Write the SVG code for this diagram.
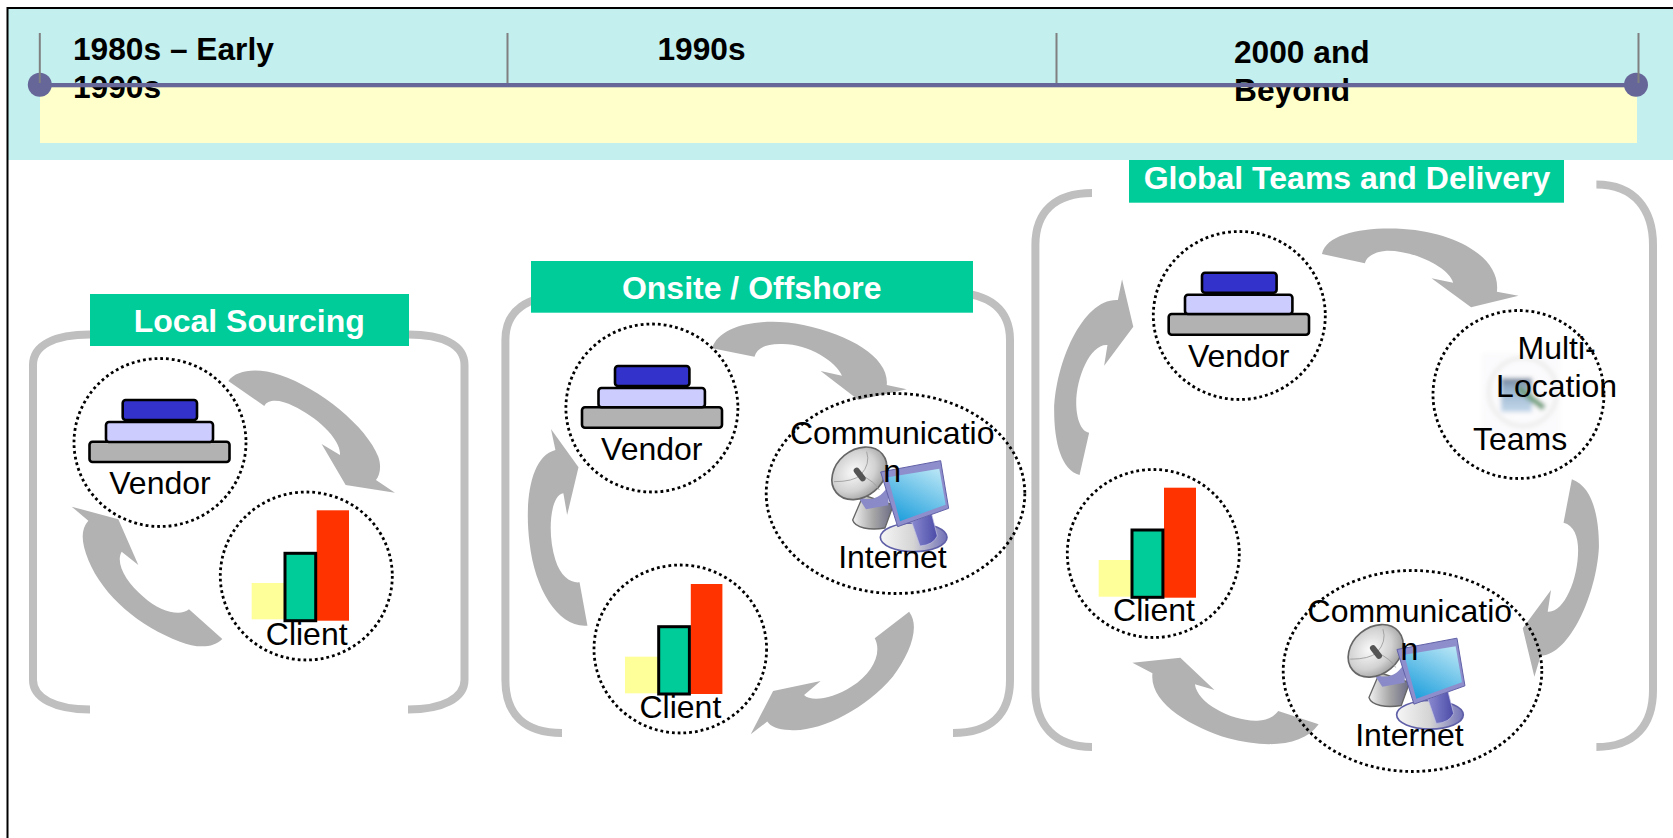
<svg xmlns="http://www.w3.org/2000/svg" width="1673" height="838" viewBox="0 0 1673 838">
<style>
text{font-family:"Liberation Sans",Arial,sans-serif;fill:#000}
.lab{font-size:32px;text-anchor:middle}
.era{font-size:31.7px;font-weight:bold}
.ttl{font-size:32px;font-weight:bold;fill:#fff;text-anchor:middle}
.head{fill:#00CC99}
.brk{fill:none;stroke:#BFBFBF;stroke-width:8}
.dot{fill:none;stroke:#000;stroke-width:2.8;stroke-dasharray:2.8 3}
.arr{fill:#B2B2B2}
.b1{fill:#3333CC;stroke:#000;stroke-width:2.6}
.b2{fill:#CCCCFF;stroke:#000;stroke-width:2.6}
.b3{fill:#B2B2B2;stroke:#000;stroke-width:2.6}
.by{fill:#FFFF99}
.bg{fill:#00CC99;stroke:#000;stroke-width:3}
.br{fill:#FF3300}
.tick{stroke:#808080;stroke-width:2}
</style>
<defs>
<radialGradient id="dishG" cx="0.45" cy="0.4" r="0.7"><stop offset="0" stop-color="#fafafa"/><stop offset="0.55" stop-color="#d2d2d2"/><stop offset="1" stop-color="#8c8c8c"/></radialGradient>
<linearGradient id="coneG" x1="0" x2="1"><stop offset="0" stop-color="#f2f2f2"/><stop offset="0.5" stop-color="#a8a8a8"/><stop offset="1" stop-color="#6a6a84"/></linearGradient>
<linearGradient id="scrG" x1="0.8" y1="0" x2="0.2" y2="1"><stop offset="0" stop-color="#b5e4f5"/><stop offset="1" stop-color="#1f9fdc"/></linearGradient>
<linearGradient id="baseG" x1="0" x2="1"><stop offset="0" stop-color="#f6f6f6"/><stop offset="0.5" stop-color="#d4d4d4"/><stop offset="1" stop-color="#7070b8"/></linearGradient>
<linearGradient id="neckG" x1="0" x2="1"><stop offset="0" stop-color="#8a8ad0"/><stop offset="1" stop-color="#4b4ba8"/></linearGradient>
<linearGradient id="photoG" x1="0" y1="0" x2="0" y2="1"><stop offset="0" stop-color="#76869c"/><stop offset="0.35" stop-color="#9ab5cf"/><stop offset="1" stop-color="#c4d8ea"/></linearGradient>
<filter id="soft" x="-20%" y="-20%" width="140%" height="140%"><feGaussianBlur stdDeviation="2.2"/></filter>
<g id="net" transform="translate(820,440) scale(.3333)">
<path d="M130 165 L98 240 C105 264 150 272 195 264 L220 195 Z" fill="url(#coneG)" stroke="#666" stroke-width="4"/>
<path d="M112 168 C150 190 190 172 208 128 L205 196 L138 208 Z" fill="#8a8ac8"/>
<ellipse cx="118" cy="100" rx="90" ry="70" transform="rotate(-40 118 100)" fill="url(#dishG)" stroke="#666" stroke-width="5"/>
<path d="M42 125 Q100 125 122 105 M122 105 Q152 72 140 35 M122 105 Q165 125 178 150" fill="none" stroke="#999" stroke-width="2.5"/>
<path d="M110 92 L128 115" stroke="#555" stroke-width="18" stroke-linecap="round"/>
<ellipse cx="281" cy="292" rx="100" ry="43" fill="url(#baseG)" stroke="#5f5fa8" stroke-width="5"/>
<path d="M275 245 L335 222 L352 288 Q340 315 300 318 Z" fill="url(#neckG)" stroke="#c5c5e5" stroke-width="2"/>
<path d="M182 96 L362 62 L386 205 L233 260 Z" fill="#8e8ecc" stroke="#6060a8" stroke-width="3"/>
<path d="M204 112 L358 86 L377 194 L240 244 Z" fill="url(#scrG)"/>
</g>
</defs>

<rect x="8" y="8" width="1665" height="152" fill="#C3EFEF"/>
<path d="M7.5 838 V8 H1673" fill="none" stroke="#000" stroke-width="2"/>
<rect x="40" y="87" width="1597" height="56" fill="#FFFFCC"/>

<g id="timeline">
<text class="era" x="73" y="60">1980s – Early</text>
<text class="era" x="73" y="98">1990s</text>
<text class="era" x="657.5" y="60">1990s</text>
<text class="era" x="1234" y="63">2000 and</text>
<text class="era" x="1234" y="101">Beyond</text>
<circle cx="39.8" cy="84.7" r="12" fill="#666699"/>
<circle cx="1636" cy="84.7" r="12" fill="#666699"/>
<path class="tick" d="M39.8 33V83M507.5 33V83M1056.5 33V83M1638.5 33V83"/>
<rect x="39.8" y="83" width="1596" height="4.3" fill="#666699"/>
</g>

<g id="panel-local">
<path class="brk" d="M90 334.5 C55 334.5 33 345 33 365 V680 C33 698 55 709.5 90 709.5"/>
<path class="brk" d="M408 334.5 C443 334.5 464.5 345 464.5 365 V680 C464.5 698 443 709.5 408 709.5"/>
<rect class="head" x="90" y="294" width="319" height="52"/>
<text class="ttl" x="249.2" y="332">Local Sourcing</text>
</g>
<g id="panel-onsite">
<path class="brk" d="M562 296 C528 296 505.4 310 505.4 340 V680 C505.4 715 525 733 562 733"/>
<path class="brk" d="M953 293 C990 293 1010 310 1010 340 V680 C1010 715 990 733 953 733"/>
<rect class="head" x="531" y="261" width="442" height="51.7"/>
<text class="ttl" x="751.7" y="299">Onsite / Offshore</text>
</g>
<g id="panel-global">
<path class="brk" d="M1092 193 C1055 193 1035.4 212 1035.4 245 V690 C1035.4 725 1055 747 1092 747"/>
<path class="brk" d="M1596.4 184.5 C1635 184.5 1653 210 1653 245 V690 C1653 725 1635 747 1596.4 747"/>
<rect class="head" x="1129" y="160" width="435" height="42.7"/>
<text class="ttl" x="1347" y="189">Global Teams and Delivery</text>
</g>

<g id="connectors" class="arr">
<g transform="translate(20,280) scale(.3333)">
<path d="M625 303 C650 270 710 262 780 285 C900 325 1040 440 1075 530 C1085 560 1080 585 1068 600 L1125 638 L977 615 L905 492 L960 525 C965 480 890 410 820 378 C785 360 745 355 733 378 Z"/>
<path d="M607 1077 C580 1105 530 1105 480 1085 C360 1040 250 950 205 840 C185 790 180 750 205 722 L155 680 L295 718 L355 855 L305 815 C285 850 320 910 370 950 C420 995 480 1010 507 988 Z"/>
</g>
<g transform="translate(490,250) scale(.3444,.3333)">
<path d="M645 295 C665 225 790 200 910 225 C1050 255 1160 325 1152 405 L1210 418 L1070 450 L960 363 L1022 377 C1005 335 925 282 850 282 C800 280 775 295 768 320 Z"/>
<path d="M283 1127 C200 1135 130 1020 115 880 C100 760 115 620 190 600 L177 537 L257 652 L224 795 L213 730 C175 735 165 850 190 930 C205 980 235 1000 260 997 Z"/>
<path d="M1217 1085 C1250 1130 1220 1210 1170 1280 C1090 1380 950 1450 870 1440 C835 1440 815 1430 805 1415 L757 1453 L822 1323 L960 1293 L912 1335 C930 1355 990 1350 1050 1310 C1110 1270 1140 1210 1117 1165 Z"/>
</g>
<g transform="translate(1020,150) scale(.4165,.3333)">
<path d="M725 312 C735 250 830 230 920 237 C1050 247 1155 325 1145 425 L1197 437 L1083 472 L988 385 L1040 398 C1030 350 940 300 880 302 C850 305 832 320 828 340 Z"/>
<path d="M143 975 C100 960 82 880 82 780 C85 640 150 445 235 450 L245 388 L272 530 L202 647 L210 585 C170 580 135 680 135 760 C135 800 145 845 166 848 Z"/>
</g>
<g transform="translate(1020,450) scale(.4165,.3333)">
<path d="M1325 88 C1375 110 1390 200 1390 290 C1385 430 1320 615 1250 617 L1235 680 L1207 535 L1275 420 L1267 485 C1305 490 1340 390 1340 300 C1340 260 1330 225 1305 218 Z"/>
<path d="M717 823 C680 890 590 895 500 865 C410 830 310 760 318 670 L270 638 L385 623 L467 720 L420 703 C425 760 510 815 570 812 C595 810 610 800 620 783 Z"/>
</g>
</g>

<g id="local-vendor">
<ellipse class="dot" cx="160" cy="442.5" rx="86" ry="84"/>
<rect class="b3" x="89.5" y="441.7" width="140" height="20.3" rx="3"/>
<rect class="b2" x="106" y="422" width="107" height="20" rx="3"/>
<rect class="b1" x="122.7" y="400" width="74.3" height="20" rx="3"/>
<text class="lab" x="160" y="494">Vendor</text>
</g>
<g id="local-client">
<ellipse class="dot" cx="306.3" cy="576" rx="86" ry="84"/>
<rect class="by" x="251.7" y="583" width="32.6" height="36.3"/>
<rect class="br" x="316.7" y="510.3" width="32.3" height="110.4"/>
<rect class="bg" x="285" y="553.3" width="30.7" height="67.4"/>
<text class="lab" x="306.7" y="645">Client</text>
</g>

<g id="onsite-vendor">
<ellipse class="dot" cx="651.9" cy="408" rx="86" ry="84"/>
<rect class="b3" x="582" y="407.3" width="140" height="20.4" rx="3"/>
<rect class="b2" x="598.5" y="388" width="106.4" height="19.3" rx="3"/>
<rect class="b1" x="615" y="366" width="74.4" height="20" rx="3"/>
<text class="lab" x="651.8" y="460.3">Vendor</text>
</g>
<g id="onsite-comm">
<ellipse class="dot" cx="895.5" cy="493.5" rx="129.3" ry="100"/>
<use href="#net"/>
<text class="lab" x="892.2" y="444.3">Communicatio</text>
<text class="lab" x="892.2" y="481.7">n</text>
<text class="lab" x="892.4" y="568.3">Internet</text>
</g>
<g id="onsite-client">
<ellipse class="dot" cx="680.3" cy="649" rx="86.3" ry="84"/>
<rect class="by" x="625" y="656.7" width="33" height="36.6"/>
<rect class="br" x="690.8" y="584" width="31.6" height="110"/>
<rect class="bg" x="658.7" y="626.7" width="30.7" height="67.3"/>
<text class="lab" x="680.4" y="717.7">Client</text>
</g>

<g id="global-vendor">
<ellipse class="dot" cx="1239.3" cy="315.5" rx="86" ry="84"/>
<rect class="b3" x="1168.7" y="314" width="140.3" height="20.7" rx="3"/>
<rect class="b2" x="1185" y="294.7" width="107.4" height="19.3" rx="3"/>
<rect class="b1" x="1202" y="272.7" width="74.6" height="20" rx="3"/>
<text class="lab" x="1238.7" y="367">Vendor</text>
</g>
<g id="global-teams">
<ellipse class="dot" cx="1518.5" cy="394.5" rx="85.5" ry="84"/>
<g filter="url(#soft)">
<rect x="1482" y="353" width="78" height="87" fill="#FBFAFC"/>
<circle cx="1523" cy="392" r="34" fill="none" stroke="#EDEDED" stroke-width="4"/>
<rect x="1501" y="378" width="31" height="34" fill="url(#photoG)"/>
<path d="M1518 388 L1544 408" stroke="#6F9F7A" stroke-width="6"/>
</g>
<text class="lab" x="1556.6" y="359">Multi-</text>
<text class="lab" x="1556.6" y="396.7">Location</text>
<text class="lab" x="1520" y="450">Teams</text>
</g>
<g id="global-comm">
<ellipse class="dot" cx="1412.5" cy="671" rx="129.3" ry="100.5"/>
<use href="#net" x="516.3" y="177.5"/>
<text class="lab" x="1409.8" y="621.7">Communicatio</text>
<text class="lab" x="1409.4" y="660">n</text>
<text class="lab" x="1409.4" y="745.7">Internet</text>
</g>
<g id="global-client">
<ellipse class="dot" cx="1153.3" cy="553.5" rx="86" ry="84"/>
<rect class="by" x="1098.7" y="560" width="32.9" height="36.7"/>
<rect class="br" x="1164" y="487.7" width="32" height="110"/>
<rect class="bg" x="1132" y="530" width="30.9" height="67.3"/>
<text class="lab" x="1154" y="621">Client</text>
</g>
</svg>
